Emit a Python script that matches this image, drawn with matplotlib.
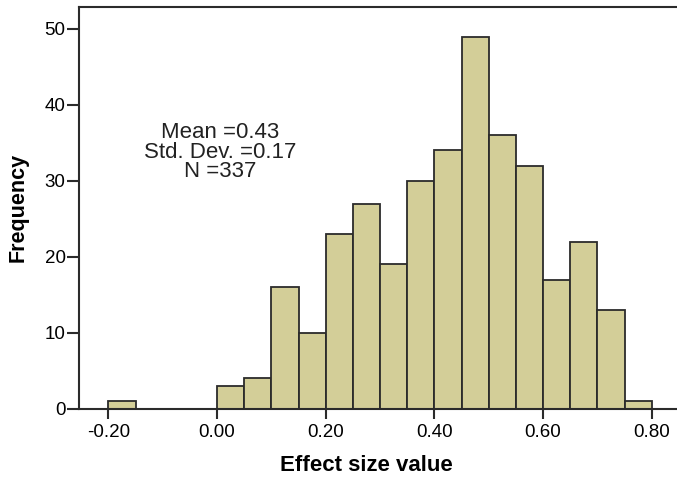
import matplotlib
matplotlib.use("Agg")
import matplotlib.pyplot as plt

plt.rcParams['font.family'] = ['Liberation Sans', 'DejaVu Sans']

# histogram of effect sizes, bin width 0.05
bin_edges = [-0.20, -0.15, -0.10, -0.05, 0.00, 0.05, 0.10, 0.15, 0.20, 0.25, 0.30,
             0.35, 0.40, 0.45, 0.50, 0.55, 0.60, 0.65, 0.70, 0.75, 0.80]
counts = [1, 0, 0, 0, 3, 4, 16, 10, 23, 27, 19, 30, 34, 49, 36, 32, 17, 22, 13, 1]

xticks = [-0.20, 0.00, 0.20, 0.40, 0.60, 0.80]
yticks = [0, 10, 20, 30, 40, 50]
stats_text = "Mean =0.43\nStd. Dev. =0.17\nN =337"

fig = plt.figure(figsize=(6.77, 4.8), dpi=100)
ax = fig.add_axes([0.1163, 0.1485, 0.8837, 0.837])

widths = [bin_edges[i + 1] - bin_edges[i] for i in range(len(counts))]
for left, w, c in zip(bin_edges[:-1], widths, counts):
    if c > 0:
        ax.bar(left, c, width=w, align='edge', color='#D3CE98',
               edgecolor='#2b2b2b', linewidth=1.3, zorder=2)

ax.set_xlim(-0.2545, 0.8466)
ax.set_ylim(0, 52.9)
ax.set_xticks(xticks)
ax.set_xticklabels(["%.2f" % v for v in xticks])
ax.set_yticks(yticks)

for s in ['left', 'bottom', 'top']:
    ax.spines[s].set_linewidth(1.5)
    ax.spines[s].set_color('#2b2b2b')
ax.spines['right'].set_visible(False)

ax.tick_params(axis='x', length=7, width=1.5, color='#2b2b2b', labelsize=13.5, pad=4)
ax.tick_params(axis='y', length=8.5, width=1.5, color='#2b2b2b', labelsize=13.5, pad=1)

ax.set_xlabel("Effect size value", fontsize=16, fontweight='bold')
ax.xaxis.set_label_coords(0.48, -0.115)
ax.set_ylabel("Frequency", fontsize=15.5, fontweight='bold')
ax.yaxis.set_label_coords(-0.084, 0.5)

ax.text(0.005, 33.8, stats_text, ha='center', va='center', fontsize=16,
        linespacing=0.9, color='#222222')

fig.savefig("out.png", dpi=100)
